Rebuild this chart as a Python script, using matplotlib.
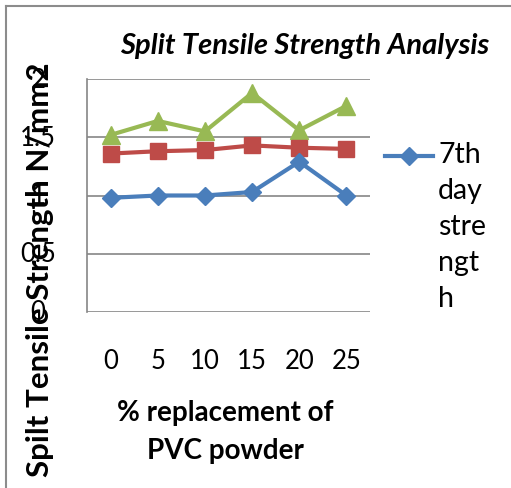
import matplotlib
matplotlib.use("Agg")
from matplotlib import pyplot as plt
from matplotlib.lines import Line2D
from matplotlib.transforms import blended_transform_factory

plt.rcParams['font.family'] = ['Lato', 'DejaVu Sans']

# data
categories = ["0", "5", "10", "15", "20", "25"]
strength_7th = [0.98, 1.00, 1.00, 1.03, 1.29, 1.00]
strength_14th = [1.36, 1.38, 1.39, 1.43, 1.41, 1.40]
strength_28th = [1.52, 1.64, 1.55, 1.88, 1.56, 1.77]
y_ticks = [0, 0.5, 1, 1.5, 2]
y_tick_labels = ["0", "0.5", "1", "1.5", "2"]

W, H = 511, 489
fig = plt.figure(figsize=(W / 100, H / 100), dpi=100)
# plot area in pixels: x 87..370, y 80..313
ax = fig.add_axes([87 / W, 1 - 313 / H, (370 - 87) / W, (313 - 80) / H])

x = list(range(len(categories)))
ax.plot(x, strength_7th, color="#4A7EBB", lw=3, marker="D", ms=9.5,
        zorder=5)
ax.plot(x, strength_14th, color="#BE4B48", lw=3, marker="s", ms=11,
        zorder=4)
ax.plot(x, strength_28th, color="#98B954", lw=3, marker="^", ms=13,
        zorder=3)

ax.set_xlim(-0.5, len(categories) - 0.5)
ax.set_ylim(0, 2)
ax.set_yticks(y_ticks)
ax.yaxis.grid(True, color="#868686", lw=1.2)
ax.set_axisbelow(True)
for s in ["top", "right", "bottom"]:
    ax.spines[s].set_visible(False)
ax.spines["left"].set_color("#868686")
ax.spines["left"].set_linewidth(1.2)
ax.tick_params(axis="both", length=0)
ax.set_yticklabels([])
ax.set_xticks(x)
ax.set_xticklabels(categories, fontsize=18.5)
ax.tick_params(axis="x", pad=26)

# y tick labels sit far left, under the axis title, like the original
ytr = blended_transform_factory(fig.transFigure, ax.transData)
for v, lab in zip(y_ticks, y_tick_labels):
    ax.text(38 / W, v, lab, transform=ytr, ha="center", va="center",
            fontsize=18.5)

fig.text(40 / W, 1 - 270 / H, "Spilt Tensile Strength N/mm2", rotation=90,
         ha="center", va="center", fontsize=22.5, fontweight="bold")
fig.text(305 / W, 1 - 46 / H, "Split Tensile Strength Analysis",
         ha="center", va="center", fontsize=21, fontweight="bold",
         fontstyle="italic")
fig.text(225 / W, 1 - 432 / H, "% replacement of\nPVC powder",
         ha="center", va="center", fontsize=20, fontweight="bold",
         linespacing=1.6)

# legend (only first entry visible in the original)
fig.add_artist(Line2D([385 / W, 433 / W], [1 - 157 / H, 1 - 157 / H],
                      transform=fig.transFigure, color="#4A7EBB", lw=3))
fig.add_artist(Line2D([409 / W], [1 - 157 / H], transform=fig.transFigure,
                      color="#4A7EBB", marker="D", ms=9.5))
fig.text(438 / W, 1 - 142 / H, "7th\nday\nstre\nngt\nh", ha="left",
         va="top", fontsize=20.5, linespacing=1.48)

# chart frame
fig.add_artist(Line2D([6 / W, 1], [1 - 7 / H, 1 - 7 / H],
                      transform=fig.transFigure, color="#8c8c8c", lw=1.5))
fig.add_artist(Line2D([6 / W, 6 / W], [0, 1 - 7 / H],
                      transform=fig.transFigure, color="#8c8c8c", lw=1.5))

fig.savefig("out.png", dpi=100)
